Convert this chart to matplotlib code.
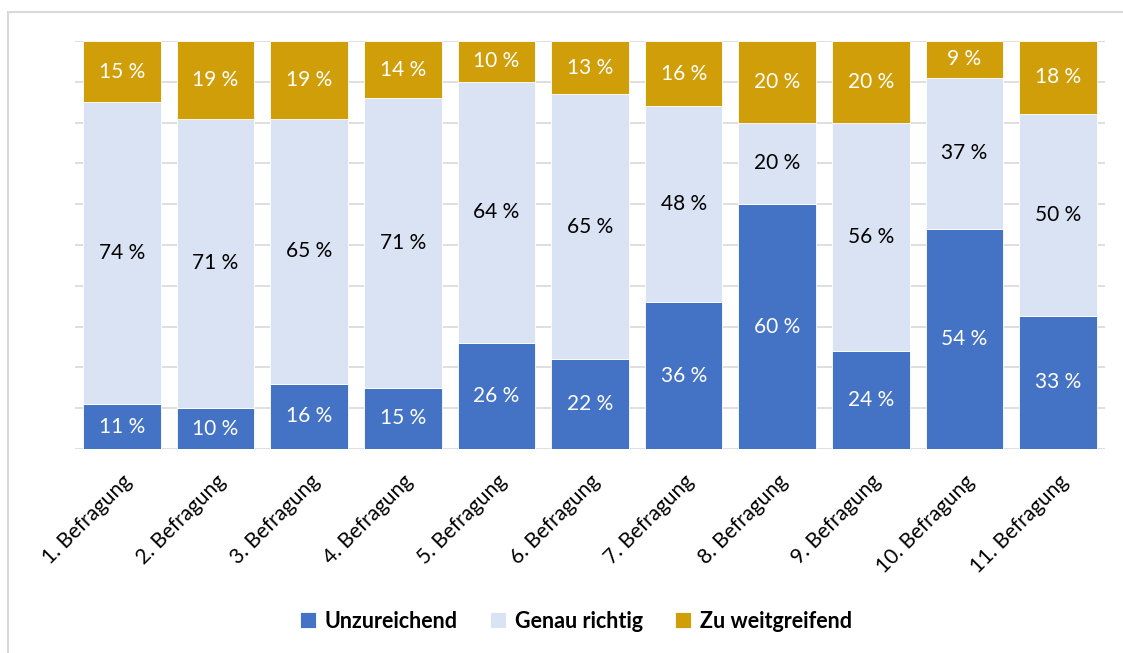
import numpy as np
import matplotlib.pyplot as plt
from matplotlib.patches import Rectangle

categories = [f"{i}. Befragung" for i in range(1, 12)]
unzureichend = [11, 10, 16, 15, 26, 22, 36, 60, 24, 54, 33]
genau_richtig = [74, 71, 65, 71, 64, 65, 48, 20, 56, 37, 50]
zu_weit = [15, 19, 19, 14, 10, 13, 16, 20, 20, 9, 18]

series = [
    ("Unzureichend", unzureichend, "#4472c4", "white"),
    ("Genau richtig", genau_richtig, "#dae3f3", "black"),
    ("Zu weitgreifend", zu_weit, "#d09e08", "white"),
]

plt.rcParams["font.family"] = ["Lato", "DejaVu Sans"]

fig = plt.figure(figsize=(11.23, 6.53), dpi=100)
# light frame like the Excel chart border
fig.patches.append(Rectangle((8 / 1123, -0.1), 1.2, 1 - 12 / 653 + 0.1,
                             transform=fig.transFigure, fill=False,
                             edgecolor="#d9d9d9", linewidth=1.5))

ax = fig.add_axes([75 / 1123, 1 - 449 / 653, 1030 / 1123, 408 / 653])

x = np.arange(len(categories))
totals = np.sum([s[1] for s in series], axis=0)
bottom = np.zeros(len(categories))
for name, vals, color, tcol in series:
    share = np.array(vals) / totals * 100
    ax.bar(x, share, bottom=bottom, width=0.83, color=color, label=name,
           edgecolor="white", linewidth=0.6, zorder=2)
    for xi, b, h, v in zip(x, bottom, share, vals):
        ax.text(xi, b + h / 2, f"{v} %", ha="center", va="center",
                color=tcol, fontsize=15, zorder=3)
    bottom += share

ax.set_xlim(-0.5, len(categories) - 0.5)
ax.set_ylim(0, 100)
ax.set_yticks(np.arange(0, 101, 10))
ax.set_yticklabels([])
ax.tick_params(axis="y", length=0)
ax.grid(axis="y", color="#d9d9d9", linewidth=1.2, zorder=0)
ax.set_axisbelow(True)
for sp in ax.spines.values():
    sp.set_visible(False)

ax.set_xticks(x)
ax.set_xticklabels(categories, rotation=45, ha="right", rotation_mode="anchor",
                   fontsize=15)
ax.tick_params(axis="x", length=0, pad=16)

fig.legend(loc="center", bbox_to_anchor=(576 / 1123, 1 - 621 / 653), ncol=3,
           frameon=False, prop={"weight": "bold", "size": 15.5},
           handlelength=0.75, handleheight=0.75, handletextpad=0.4,
           columnspacing=1.5)

fig.savefig("out.png", dpi=100)
